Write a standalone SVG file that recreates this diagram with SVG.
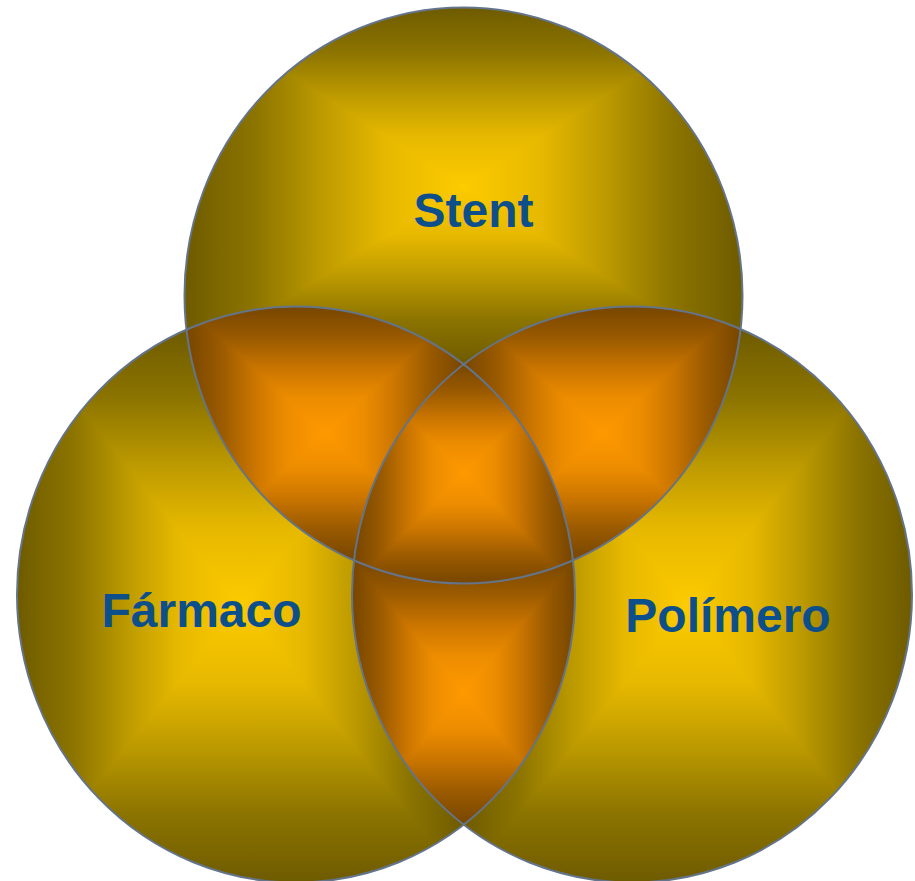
<svg xmlns="http://www.w3.org/2000/svg" width="915" height="881" viewBox="0 0 915 881">
<style>
.lbl{font-family:"Liberation Sans",Arial,sans-serif;font-weight:bold;font-size:48px;fill:#0D4F8B;text-anchor:middle}
.ol{fill:none;stroke:#64748A;stroke-width:2}
</style>
<defs>
<linearGradient id="yV" x1="0" y1="0" x2="0" y2="1">
<stop offset="0" stop-color="#6E5B00"/><stop offset="0.125" stop-color="#8C7400"/><stop offset="0.25" stop-color="#BE9B00"/><stop offset="0.36" stop-color="#E6B800"/><stop offset="0.5" stop-color="#FDCB00"/><stop offset="0.64" stop-color="#E6B800"/><stop offset="0.75" stop-color="#BE9B00"/><stop offset="0.875" stop-color="#8C7400"/><stop offset="1" stop-color="#6E5B00"/>
</linearGradient>
<linearGradient id="yL" x1="0" y1="0" x2="1" y2="0">
<stop offset="0" stop-color="#6E5B00"/><stop offset="0.25" stop-color="#8C7400"/><stop offset="0.5" stop-color="#BE9B00"/><stop offset="0.72" stop-color="#E6B800"/><stop offset="1" stop-color="#FDCB00"/>
</linearGradient>
<linearGradient id="yR" x1="1" y1="0" x2="0" y2="0">
<stop offset="0" stop-color="#6E5B00"/><stop offset="0.25" stop-color="#8C7400"/><stop offset="0.5" stop-color="#BE9B00"/><stop offset="0.72" stop-color="#E6B800"/><stop offset="1" stop-color="#FDCB00"/>
</linearGradient>
<linearGradient id="oV" x1="0" y1="0" x2="0" y2="1">
<stop offset="0" stop-color="#774600"/><stop offset="0.125" stop-color="#9A5A00"/><stop offset="0.25" stop-color="#CC7600"/><stop offset="0.36" stop-color="#EC8C00"/><stop offset="0.5" stop-color="#FF9900"/><stop offset="0.64" stop-color="#EC8C00"/><stop offset="0.75" stop-color="#CC7600"/><stop offset="0.875" stop-color="#9A5A00"/><stop offset="1" stop-color="#774600"/>
</linearGradient>
<linearGradient id="oL" x1="0" y1="0" x2="1" y2="0">
<stop offset="0" stop-color="#774600"/><stop offset="0.25" stop-color="#9A5A00"/><stop offset="0.5" stop-color="#CC7600"/><stop offset="0.72" stop-color="#EC8C00"/><stop offset="1" stop-color="#FF9900"/>
</linearGradient>
<linearGradient id="oR" x1="1" y1="0" x2="0" y2="0">
<stop offset="0" stop-color="#774600"/><stop offset="0.25" stop-color="#9A5A00"/><stop offset="0.5" stop-color="#CC7600"/><stop offset="0.72" stop-color="#EC8C00"/><stop offset="1" stop-color="#FF9900"/>
</linearGradient>
<clipPath id="cS"><ellipse cx="463.5" cy="295.5" rx="279" ry="288"/></clipPath>
<clipPath id="cL"><ellipse cx="296" cy="594.5" rx="279" ry="288"/></clipPath>
<clipPath id="cR"><ellipse cx="632" cy="594.5" rx="280" ry="288"/></clipPath>
<mask id="mS" maskUnits="userSpaceOnUse" x="0" y="0" width="915" height="881">
<ellipse cx="463.5" cy="295.5" rx="279" ry="288" fill="#fff"/><ellipse cx="296" cy="594.5" rx="279" ry="288" fill="#000"/><ellipse cx="632" cy="594.5" rx="280" ry="288" fill="#000"/>
</mask>
<mask id="mL" maskUnits="userSpaceOnUse" x="0" y="0" width="915" height="881">
<ellipse cx="296" cy="594.5" rx="279" ry="288" fill="#fff"/><ellipse cx="463.5" cy="295.5" rx="279" ry="288" fill="#000"/><ellipse cx="632" cy="594.5" rx="280" ry="288" fill="#000"/>
</mask>
<mask id="mR" maskUnits="userSpaceOnUse" x="0" y="0" width="915" height="881">
<ellipse cx="632" cy="594.5" rx="280" ry="288" fill="#fff"/><ellipse cx="463.5" cy="295.5" rx="279" ry="288" fill="#000"/><ellipse cx="296" cy="594.5" rx="279" ry="288" fill="#000"/>
</mask>
<mask id="mLnotR" maskUnits="userSpaceOnUse" x="0" y="0" width="915" height="881">
<ellipse cx="296" cy="594.5" rx="279" ry="288" fill="#fff"/><ellipse cx="632" cy="594.5" rx="280" ry="288" fill="#000"/>
</mask>
<mask id="mRnotL" maskUnits="userSpaceOnUse" x="0" y="0" width="915" height="881">
<ellipse cx="632" cy="594.5" rx="280" ry="288" fill="#fff"/><ellipse cx="296" cy="594.5" rx="279" ry="288" fill="#000"/>
</mask>
<mask id="mRnotS" maskUnits="userSpaceOnUse" x="0" y="0" width="915" height="881">
<ellipse cx="632" cy="594.5" rx="280" ry="288" fill="#fff"/><ellipse cx="463.5" cy="295.5" rx="279" ry="288" fill="#000"/>
</mask>
</defs>
<rect width="915" height="881" fill="#fff"/>
<g id="stent">
<g mask="url(#mS)">
<rect x="184.5" y="7.5" width="558" height="356.7" fill="url(#yV)"/>
<polygon points="184.5,7.5 184.5,364.2 463.5,185.85" fill="url(#yL)"/>
<polygon points="742.5,7.5 742.5,364.2 463.5,185.85" fill="url(#yR)"/>
</g>
</g>
<g id="farmaco">
<g mask="url(#mL)">
<rect x="17" y="329.6" width="447" height="552.9" fill="url(#yV)"/>
<polygon points="17,329.6 17,882.5 240.5,606.05" fill="url(#yL)"/>
<polygon points="464,329.6 464,882.5 240.5,606.05" fill="url(#yR)"/>
</g>
</g>
<g id="polimero">
<g mask="url(#mR)">
<rect x="463" y="329.6" width="449" height="552.9" fill="url(#yV)"/>
<polygon points="463,329.6 463,882.5 687.5,606.05" fill="url(#yL)"/>
<polygon points="912,329.6 912,882.5 687.5,606.05" fill="url(#yR)"/>
</g>
</g>
<g id="stent-farmaco" clip-path="url(#cS)">
<g mask="url(#mLnotR)">
<rect x="186.5" y="306.5" width="277.5" height="253.5" fill="url(#oV)"/>
<polygon points="186.5,306.5 186.5,560 325.25,433.25" fill="url(#oL)"/>
<polygon points="464,306.5 464,560 325.25,433.25" fill="url(#oR)"/>
</g>
</g>
<g id="stent-polimero" clip-path="url(#cS)">
<g mask="url(#mRnotL)">
<rect x="463" y="306.5" width="278" height="253.5" fill="url(#oV)"/>
<polygon points="463,306.5 463,560 602,433.25" fill="url(#oL)"/>
<polygon points="741,306.5 741,560 602,433.25" fill="url(#oR)"/>
</g>
</g>
<g id="farmaco-polimero" clip-path="url(#cL)">
<g mask="url(#mRnotS)">
<rect x="352" y="560" width="223" height="265" fill="url(#oV)"/>
<polygon points="352,560 352,825 463.5,692.5" fill="url(#oL)"/>
<polygon points="575,560 575,825 463.5,692.5" fill="url(#oR)"/>
</g>
</g>
<g id="centro" clip-path="url(#cS)">
<g clip-path="url(#cL)">
<g clip-path="url(#cR)">
<rect x="354.5" y="364.2" width="218.5" height="219.3" fill="url(#oV)"/>
<polygon points="354.5,364.2 354.5,583.5 463.75,473.85" fill="url(#oL)"/>
<polygon points="573,364.2 573,583.5 463.75,473.85" fill="url(#oR)"/>
</g>
</g>
</g>
<g id="connectors"></g>
<g id="outlines">
<ellipse class="ol" cx="463.5" cy="295.5" rx="279" ry="288"/>
<ellipse class="ol" cx="296" cy="594.5" rx="279" ry="288"/>
<ellipse class="ol" cx="632" cy="594.5" rx="280" ry="288"/>
</g>
<g id="labels">
<text class="lbl" x="473.5" y="227">Stent</text>
<text class="lbl" x="201.5" y="627">Fármaco</text>
<text class="lbl" x="728" y="632">Polímero</text>
</g>
</svg>
